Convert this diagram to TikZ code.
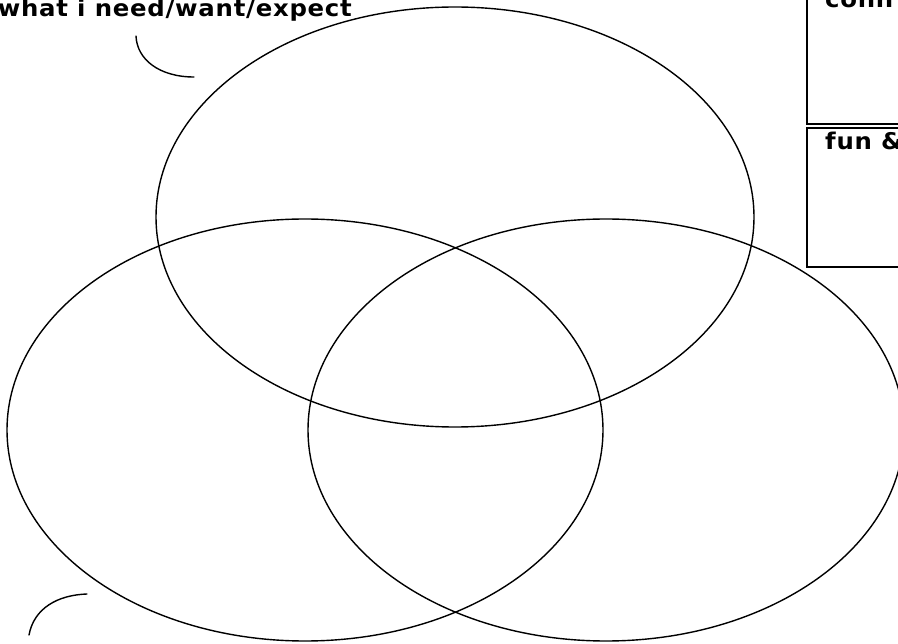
\documentclass[tikz,border=0pt]{standalone}
\usepackage{fontspec}
\setmainfont{DejaVu Sans}
\newfontfamily\handfont[LetterSpace=3]{DejaVu Sans}
\tikzset{
  ring/.style={draw=black, line width=1.4pt},
  tick/.style={draw=black, line width=1.4pt, line cap=round},
  panel/.style={draw=black, line width=1.5pt},
  lbl/.style={inner sep=0pt, font=\handfont\bfseries\fontsize{23}{26}\selectfont}
}
\begin{document}
\begin{tikzpicture}[x=1pt,y=-1pt]
\path[use as bounding box] (0,0) rectangle (898,644);
\clip (0,0) rectangle (898,644);
\fill[white] (0,0) rectangle (898,644);
% panels on the right
\draw[panel] (807,-10) rectangle (920,124);
\draw[panel] (807,128) rectangle (920,267);
\node[lbl, anchor=base west] (conn) at (825,8) {\scalebox{1.06}[1]{conn}};
\node[lbl, anchor=base west] (fun) at (825,150) {\scalebox{1.06}[1]{fun \&}};
% title
\node[lbl, anchor=base east] (title) at (352,17) {\scalebox{1.06}[1]{what i need/want/expect}};
% ellipses
\draw[ring] (455,217) ellipse [x radius=299, y radius=210];
\draw[ring] (305,430) ellipse [x radius=298, y radius=211];
\draw[ring] (606,430) ellipse [x radius=298, y radius=211];
% pointer arcs
\coordinate (a1) at (136,36);
\coordinate (a2) at (194,77);
\draw[tick] (a1) .. controls (137,60) and (160,77) .. (a2);
\coordinate (b1) at (29,635);
\coordinate (b2) at (87,594);
\draw[tick] (b1) .. controls (34,608) and (58,595) .. (b2);
\end{tikzpicture}
\end{document}
